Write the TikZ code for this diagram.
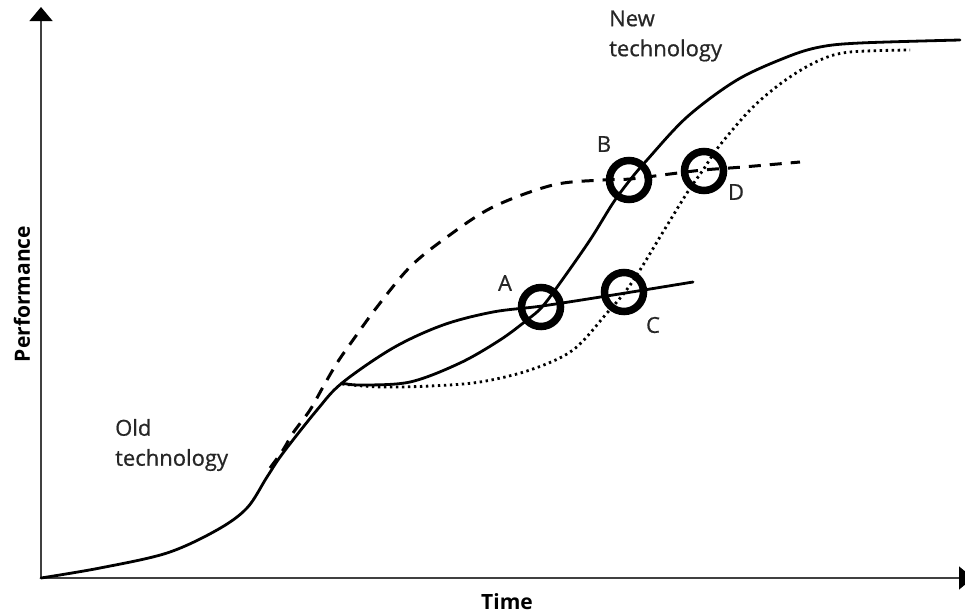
\documentclass[tikz,border=0pt]{standalone}
\usepackage{fontspec}
\setmainfont{Open Sans}
\newfontfamily\lblfont{Open Sans}[FakeBold=0.7]
\usetikzlibrary{arrows.meta}
\begin{document}
\begin{tikzpicture}[x=1pt,y=-1pt,
  axis/.style={line width=1.5pt, draw=black!75, -{Triangle[width=23pt,length=14pt,color=black]}},
  curve/.style={line width=2.8pt, line cap=round, line join=round},
  dashcurve/.style={line width=3pt, dash pattern=on 12pt off 9pt},
  dotcurve/.style={line width=2.8pt, dash pattern=on 2.4pt off 3.6pt},
  ring/.style={circle, draw, line width=7.5pt, minimum size=39pt, inner sep=0pt},
  txt/.style={font=\lblfont\fontsize{22}{30}\selectfont, text=black!85, inner sep=0pt},
  axlabel/.style={font=\bfseries\fontsize{21}{24}\selectfont, inner sep=0pt}
]
\useasboundingbox (0,0) rectangle (965,613);

% axes
\coordinate (origin) at (41,578);
\coordinate (ytop) at (41,7);
\coordinate (xend) at (973,578);
\draw[axis] (origin) -- (ytop);
\draw[axis] (origin) -- (xend);
\node[axlabel, rotate=90] (perf) at (22,294) {Performance};
\node[axlabel] (time) at (507,602) {Time};

% old technology, higher-performing variant (dashed)
\draw[dashcurve] plot[smooth, tension=0.55] coordinates {
  (270,468) (283,450) (293,433) (310,410) (323,387) (337,363) (353,340)
  (377,307) (410,267) (447,237) (493,207) (553,185) (603,180) (630,179)
  (670,174) (703,170) (743,167) (800,162)};

% new technology, slower variant (dotted)
\draw[dotcurve] plot[smooth, tension=0.55] coordinates {
  (342,384) (380,387) (430,386) (480,382) (530,370) (573,350) (607,313)
  (625,292) (640,270) (663,232) (687,193) (703,170) (720,145) (753,107)
  (787,79) (820,60) (850,52) (910,50)};

% old technology (solid)
\draw[curve] plot[smooth, tension=0.55] coordinates {
  (41,578) (100,568) (167,553) (217,530) (247,508) (267,477) (283,453)
  (317,410) (342,383) (393,348) (443,325) (493,312) (542,306)
  (613,295) (693,282)};

% new technology (solid)
\draw[curve] plot[smooth, tension=0.55] coordinates {
  (342,383) (360,385) (410,382) (460,363) (500,340) (527,320) (542,307)
  (560,283) (590,240) (613,203) (630,180) (647,160) (687,117) (737,80)
  (787,57) (820,47) (860,43) (960,40)};

% crossing points
\node[ring] (A) at (541,307) {};
\node[ring] (B) at (629,180) {};
\node[ring] (C) at (624,292) {};
\node[ring] (D) at (704,171) {};
\node[txt] (la) at (505,283) {A};
\node[txt] (lb) at (604,144) {B};
\node[txt] (lc) at (653,325) {C};
\node[txt] (ld) at (736,192) {D};

% curve names
\node[txt, anchor=west, align=left] (newtech) at (609,36) {New\\technology};
\node[txt, anchor=west, align=left] (oldtech) at (115,445) {Old\\technology};
\end{tikzpicture}
\end{document}
